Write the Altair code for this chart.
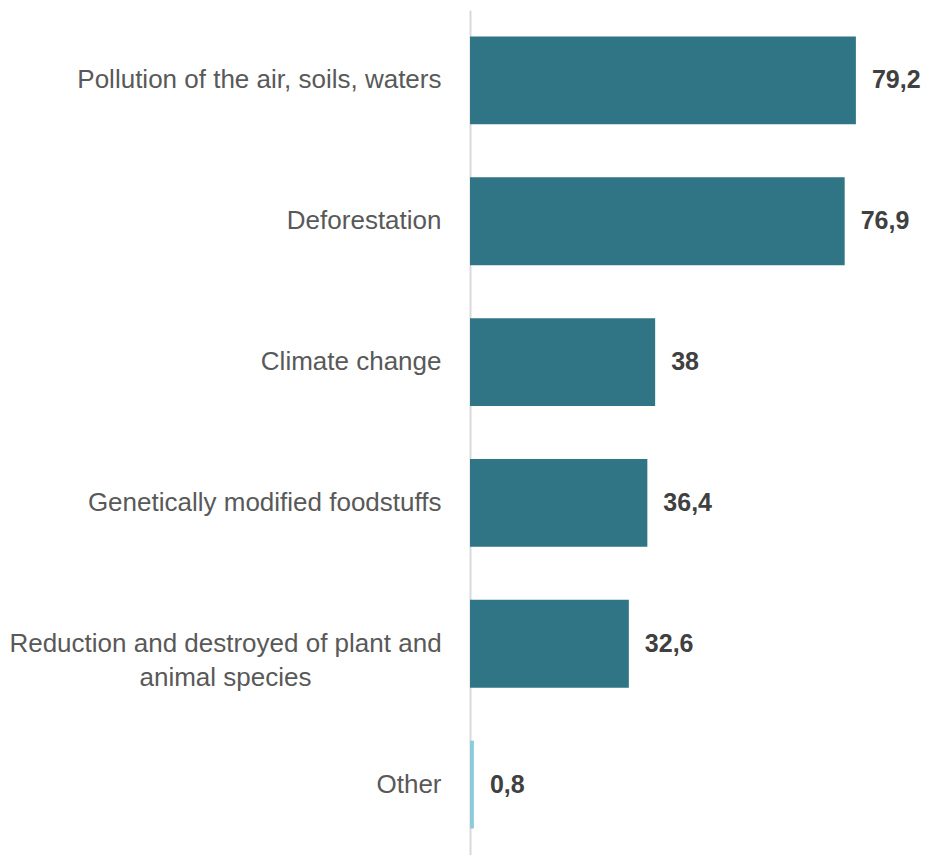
import altair as alt
import pandas as pd

categories = [
    "Pollution of the air, soils, waters",
    "Deforestation",
    "Climate change",
    "Genetically modified foodstuffs",
    "Reduction and destroyed of plant and animal species",
    "Other",
]
values = [79.2, 76.9, 38, 36.4, 32.6, 0.8]
bar_colors = ["#2f7586", "#2f7586", "#2f7586", "#2f7586", "#2f7586", "#8ccbd9"]

df = pd.DataFrame({"category": categories, "value": values})

FONT = "Liberation Sans"
long_label = categories[4]
test = f"datum.value == '{long_label}'"

y_enc = alt.Y(
    "category:N",
    sort=categories,
    title=None,
    scale=alt.Scale(paddingInner=0.376, paddingOuter=0.188),
    axis=alt.Axis(
        ticks=False,
        domain=True,
        domainColor="#d9d9d9",
        domainWidth=2,
        grid=False,
        labelFont=FONT,
        labelFontSize=26,
        labelColor="#595959",
        labelLineHeight=34,
        labelLimit=0,
        labelExpr=f"{test} ? ['Reduction and destroyed of plant and', 'animal species'] : datum.label",
        labelAlign={"condition": {"test": test, "value": "center"}, "value": "right"},
        labelPadding={"condition": {"test": test, "value": 245}, "value": 29},
        minExtent=461,
        maxExtent=461,
    ),
)

x_enc = alt.X(
    "value:Q",
    title=None,
    axis=None,
    scale=alt.Scale(domain=[0, 94], nice=False, zero=True),
)

bars = alt.Chart(df).mark_bar().encode(
    y=y_enc,
    x=x_enc,
    color=alt.Color(
        "category:N",
        scale=alt.Scale(domain=categories, range=bar_colors),
        legend=None,
    ),
)

labels = alt.Chart(df).transform_calculate(
    lbl="replace(toString(datum.value), '.', ',')"
).mark_text(
    align="left",
    baseline="middle",
    dx=16,
    font=FONT,
    fontSize=25,
    fontWeight="bold",
    color="#404040",
).encode(
    y=alt.Y("category:N", sort=categories),
    x=alt.X("value:Q"),
    text="lbl:N",
)

chart = alt.layer(bars, labels).properties(
    width=920,
    height=847,
    padding={"left": 0, "top": 2, "right": 0, "bottom": 0},
    autosize=alt.AutoSizeParams(type="fit", contains="padding"),
).configure_view(stroke=None)

chart.save("out.html", embed_options={"renderer": "svg", "actions": False})
